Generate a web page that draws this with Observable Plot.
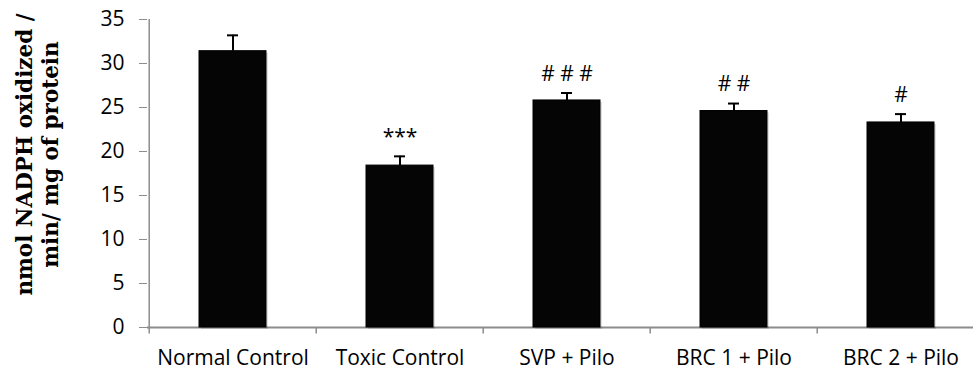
<!DOCTYPE html>
<html>
<head>
<meta charset="utf-8">
<script src="https://cdn.jsdelivr.net/npm/d3@7"></script>
<script src="https://cdn.jsdelivr.net/npm/@observablehq/plot@0.6"></script>
<style>
  html, body { margin: 0; padding: 0; background: #fff; overflow: hidden; }
</style>
</head>
<body>
<div id="chart"></div>
<script>
const categories = ["Normal Control", "Toxic Control", "SVP + Pilo", "BRC 1 + Pilo", "BRC 2 + Pilo"];
const means = [31.4, 18.4, 25.8, 24.6, 23.3];
const sems = [1.8, 1.05, 0.85, 0.85, 0.95];
const sigLabels = ["", "***", "# # #", "# #", "#"];
const yTicks = [0, 5, 10, 15, 20, 25, 30, 35];
const yTitle = "nmol NADPH oxidized /\nmin/ mg of protein";

const data = categories.map((c, i) => ({cat: c, mean: means[i], sem: sems[i], top: means[i] + sems[i], sig: sigLabels[i]}));

const W = 973, H = 372;
const x0 = 147, x1 = 985;
const step = (x1 - x0) / categories.length;
const axisGray = "#8c8c8c";
const sans = "'Open Sans', sans-serif";

const chart = Plot.plot({
  width: W,
  height: H,
  marginLeft: x0,
  marginRight: W - x1,
  marginTop: 19,
  marginBottom: 45,
  style: {fontFamily: sans, background: "#fff", overflow: "hidden"},
  x: {domain: categories, range: [x0, x1], paddingInner: 0.6, paddingOuter: 0.3},
  y: {domain: [0, 35]},
  marks: [
    Plot.axisY({ticks: yTicks, tickSize: 8, tickPadding: 15, stroke: axisGray, fill: "#000", fontSize: 21, fontFamily: sans, label: null}),
    Plot.axisX({tickSize: 0, tickPadding: 23, fontSize: 21, fontFamily: sans, fill: "#000", label: null}),
    // category boundary ticks
    Plot.ruleX(categories, {x: d => d, dx: -step / 2, y1: 0, y2: -0.75, stroke: axisGray, strokeWidth: 1.5}),
    // y axis line
    Plot.ruleX([categories[0]], {x: d => d, dx: -step / 2, y1: 0, y2: 35, stroke: axisGray, strokeWidth: 1.5}),
    // x axis line
    Plot.ruleY([0], {stroke: axisGray, strokeWidth: 2}),
    // bar shadow
    Plot.barY(data, {x: "cat", y: "mean", fill: "#000", fillOpacity: 0.12, dx: 2, dy: 2}),
    // error bars
    Plot.ruleX(data, {x: "cat", y1: "mean", y2: "top", stroke: "#000", strokeWidth: 2}),
    Plot.tickY(data, {x: "cat", y: "top", stroke: "#000", strokeWidth: 2, insetLeft: 28, insetRight: 28}),
    // bars
    Plot.barY(data, {x: "cat", y: "mean", fill: "#050505", stroke: "#000", strokeWidth: 1}),
    // significance labels
    Plot.text(data, {x: "cat", y: "top", text: "sig", dy: -19, fontSize: 21, fontFamily: sans, fill: "#000"}),
    // y axis title
    Plot.text([yTitle], {frameAnchor: "left", dx: -111, dy: -19, rotate: -90, textAnchor: "middle", lineAnchor: "middle", text: d => d, fontSize: 21.5, fontWeight: "bold", fontFamily: "'DejaVu Serif', serif", lineHeight: 1.2, fill: "#000"})
  ]
});

document.getElementById("chart").append(chart);
</script>
</body>
</html>
